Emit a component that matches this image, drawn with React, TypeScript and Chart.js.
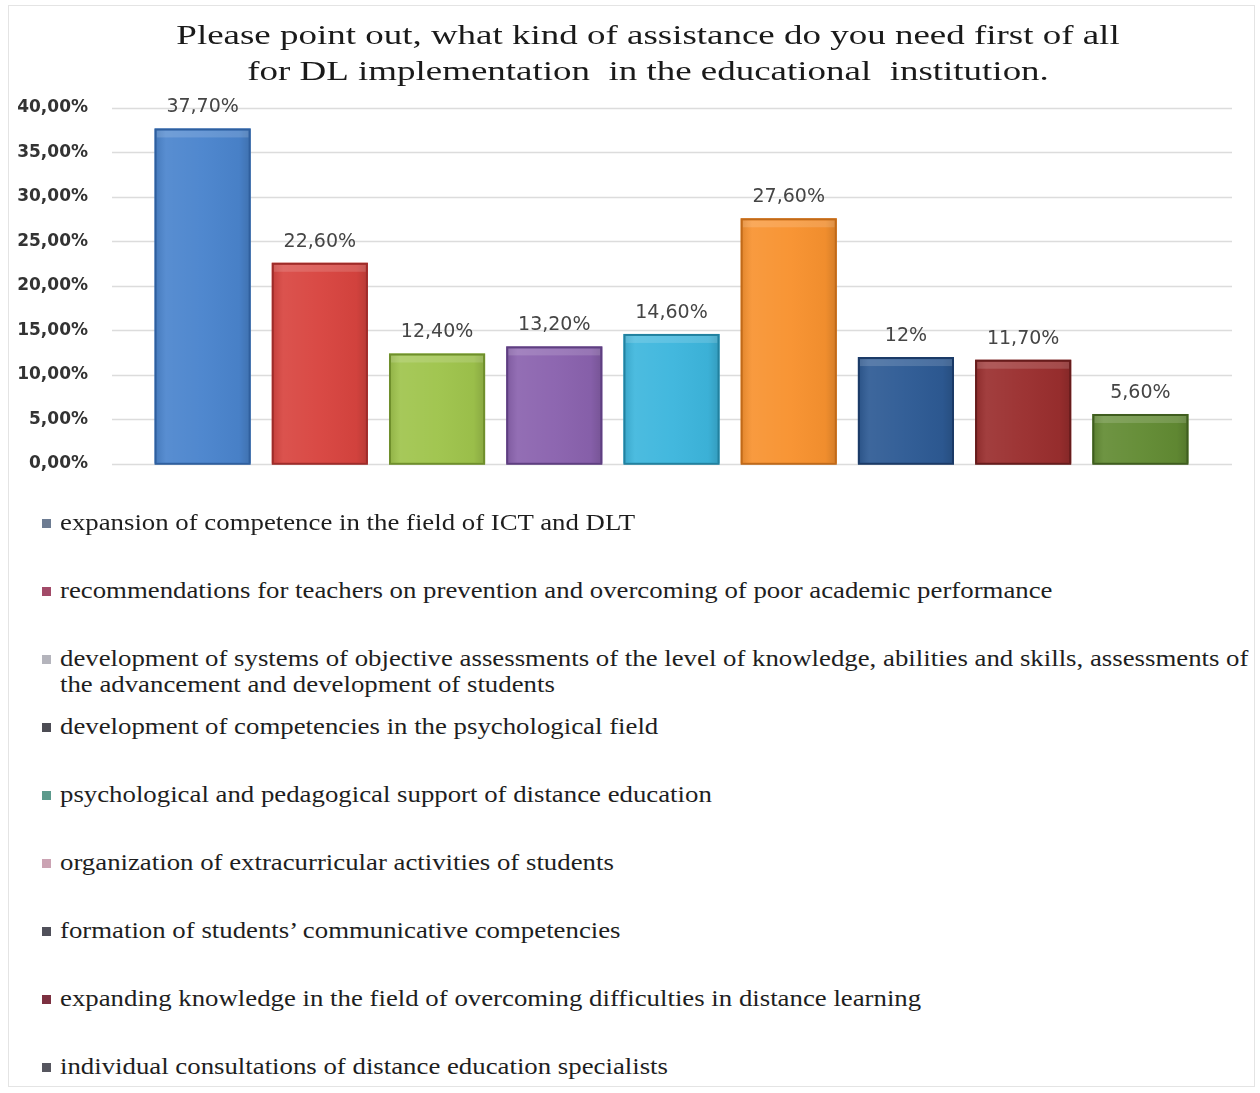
import React, { useEffect, useRef } from "react";
import { Chart, registerables } from "chart.js";

Chart.register(...registerables);

const TITLE_LINES = [
  "Please point out, what kind of assistance do you need first of all",
  "for DL implementation  in the educational  institution.",
];

const CATEGORIES = [
  "expansion of competence in the field of ICT and DLT",
  "recommendations for teachers on prevention and overcoming of poor academic performance",
  "development of systems of objective assessments of the level of knowledge, abilities and skills, assessments of the advancement and development of students",
  "development of competencies in the psychological field",
  "psychological and pedagogical support of distance education",
  "organization of extracurricular activities of students",
  "formation of students’ communicative competencies",
  "expanding knowledge in the field of overcoming difficulties in distance learning",
  "individual consultations of distance education specialists",
];

const VALUES = [37.7, 22.6, 12.4, 13.2, 14.6, 27.6, 12, 11.7, 5.6];
const VALUE_LABELS = ["37,70%", "22,60%", "12,40%", "13,20%", "14,60%", "27,60%", "12%", "11,70%", "5,60%"];

const BAR_COLORS = ["#4a84cd", "#d8443f", "#9fc44c", "#8a62ae", "#3db6dd", "#f8922f", "#2d5a94", "#9a2e2e", "#628b33"];
const BAR_BORDERS = ["#2f5f9e", "#9e2c2a", "#6f8f2c", "#5e3f80", "#22819f", "#c06a1a", "#1b3a66", "#661c1c", "#3f5d1f"];
const MARKER_COLORS = ["#6d7c92", "#a24a68", "#b4b4bc", "#4c4c54", "#5c9a8c", "#cba3b3", "#50505a", "#7c3040", "#56565f"];

const Y_MIN = 0;
const Y_MAX = 40;
const Y_STEP = 5;

const fmtTick = (v: number) => v.toFixed(2).replace(".", ",") + "%";

const TEXT_STRETCH = 1.165;
const TITLE_STRETCH = 1.32;

export default function App() {
  const canvasRef = useRef<HTMLCanvasElement | null>(null);

  useEffect(() => {
    const canvas = canvasRef.current;
    if (!canvas) return;

    const titlePlugin = {
      id: "customTitle",
      afterDraw(chart: any) {
        const ctx = chart.ctx;
        ctx.save();
        ctx.font = "28px 'Liberation Serif'";
        ctx.fillStyle = "#1a1a1a";
        ctx.textAlign = "center";
        ctx.textBaseline = "middle";
        ctx.translate(648, 0);
        ctx.scale(TITLE_STRETCH, 1);
        ctx.fillText(TITLE_LINES[0], 0, 37);
        ctx.fillText(TITLE_LINES[1], 0, 73);
        ctx.restore();
      },
    };

    const gridPlugin = {
      id: "extGrid",
      beforeDatasetsDraw(chart: any) {
        const ctx = chart.ctx;
        const y = chart.scales.y;
        ctx.save();
        ctx.strokeStyle = "#dcdcdc";
        ctx.lineWidth = 1.5;
        y.ticks.forEach((t: any) => {
          const py = Math.round(y.getPixelForValue(t.value)) + 0.5;
          ctx.beginPath();
          ctx.moveTo(112, py);
          ctx.lineTo(1232, py);
          ctx.stroke();
        });
        ctx.restore();
      },
    };

    const barShadePlugin = {
      id: "barShade",
      afterDatasetsDraw(chart: any) {
        const ctx = chart.ctx;
        const meta = chart.getDatasetMeta(0);
        ctx.save();
        meta.data.forEach((bar: any, i: number) => {
          const w = bar.width;
          const left = bar.x - w / 2;
          const top = bar.y;
          const h = bar.base - bar.y;
          const g = ctx.createLinearGradient(left, 0, left + w, 0);
          g.addColorStop(0, "rgba(0,0,0,0.10)");
          g.addColorStop(0.12, "rgba(255,255,255,0.08)");
          g.addColorStop(0.5, "rgba(255,255,255,0.03)");
          g.addColorStop(0.88, "rgba(0,0,0,0.03)");
          g.addColorStop(1, "rgba(0,0,0,0.15)");
          ctx.fillStyle = g;
          ctx.fillRect(left + 1, top + 1, w - 2, h - 2);
          ctx.fillStyle = "rgba(255,255,255,0.15)";
          ctx.fillRect(left + 2, top + 2, w - 4, 7);
          ctx.strokeStyle = BAR_BORDERS[i];
          ctx.lineWidth = 2;
          ctx.strokeRect(left + 1, top + 1, w - 2, h - 1);
        });
        ctx.restore();
      },
    };

    const valueLabelPlugin = {
      id: "valueLabels",
      afterDatasetsDraw(chart: any) {
        const ctx = chart.ctx;
        const meta = chart.getDatasetMeta(0);
        ctx.save();
        ctx.font = "19px 'DejaVu Sans'";
        ctx.fillStyle = "#454545";
        ctx.textAlign = "center";
        ctx.textBaseline = "middle";
        meta.data.forEach((bar: any, i: number) => {
          ctx.fillText(VALUE_LABELS[i], bar.x, bar.y - 21);
        });
        ctx.restore();
      },
    };

    const chart = new Chart(canvas, {
      type: "bar",
      data: {
        labels: CATEGORIES,
        datasets: [
          {
            data: VALUES,
            backgroundColor: BAR_COLORS,
            borderWidth: 0,
            barPercentage: 0.82,
            categoryPercentage: 1,
          },
        ],
      },
      options: {
        responsive: true,
        maintainAspectRatio: false,
        animation: false,
        events: [],
        layout: { padding: { left: 10, right: 61, top: 108, bottom: 0 } },
        plugins: {
          legend: { display: false },
          title: { display: false },
          tooltip: { enabled: false },
        },
        scales: {
          x: { display: false },
          y: {
            min: Y_MIN,
            max: Y_MAX,
            border: { display: false },
            grid: { display: false, drawTicks: false },
            ticks: {
              stepSize: Y_STEP,
              padding: 56,
              color: "#333333",
              font: { family: "'DejaVu Sans'", size: 17, weight: "bold" },
              callback: (v: any) => fmtTick(Number(v)),
            },
            afterFit: (scale: any) => {
              scale.width = 134;
            },
          },
        },
      },
      plugins: [gridPlugin, barShadePlugin, valueLabelPlugin, titlePlugin],
    });

    return () => chart.destroy();
  }, []);

  return (
    <div
      style={{
        position: "absolute",
        left: 0,
        top: 0,
        width: 1260,
        height: 1093,
        background: "#ffffff",
        overflow: "hidden",
      }}
    >
      <div
        style={{
          position: "absolute",
          left: 8,
          top: 5,
          width: 1247,
          height: 1082,
          border: "1px solid #e4e4e4",
          boxSizing: "border-box",
        }}
      />
      <div style={{ position: "absolute", left: 0, top: 0, width: 1260, height: 530 }}>
        <canvas ref={canvasRef} />
      </div>
      {CATEGORIES.map((c, i) => (
        <div key={i}>
          <span
            style={{
              position: "absolute",
              left: 42,
              top: 510 + 68 * i + 9,
              width: 9,
              height: 9,
              background: MARKER_COLORS[i],
            }}
          />
          <div
            style={{
              position: "absolute",
              left: 60,
              top: 510 + 68 * i,
              width: 1028,
              transform: `scaleX(${TEXT_STRETCH})`,
              transformOrigin: "left top",
              fontFamily: "'Liberation Serif', serif",
              fontSize: 23,
              lineHeight: "26px",
              color: "#1e1e1e",
            }}
          >
            {c}
          </div>
        </div>
      ))}
    </div>
  );
}
